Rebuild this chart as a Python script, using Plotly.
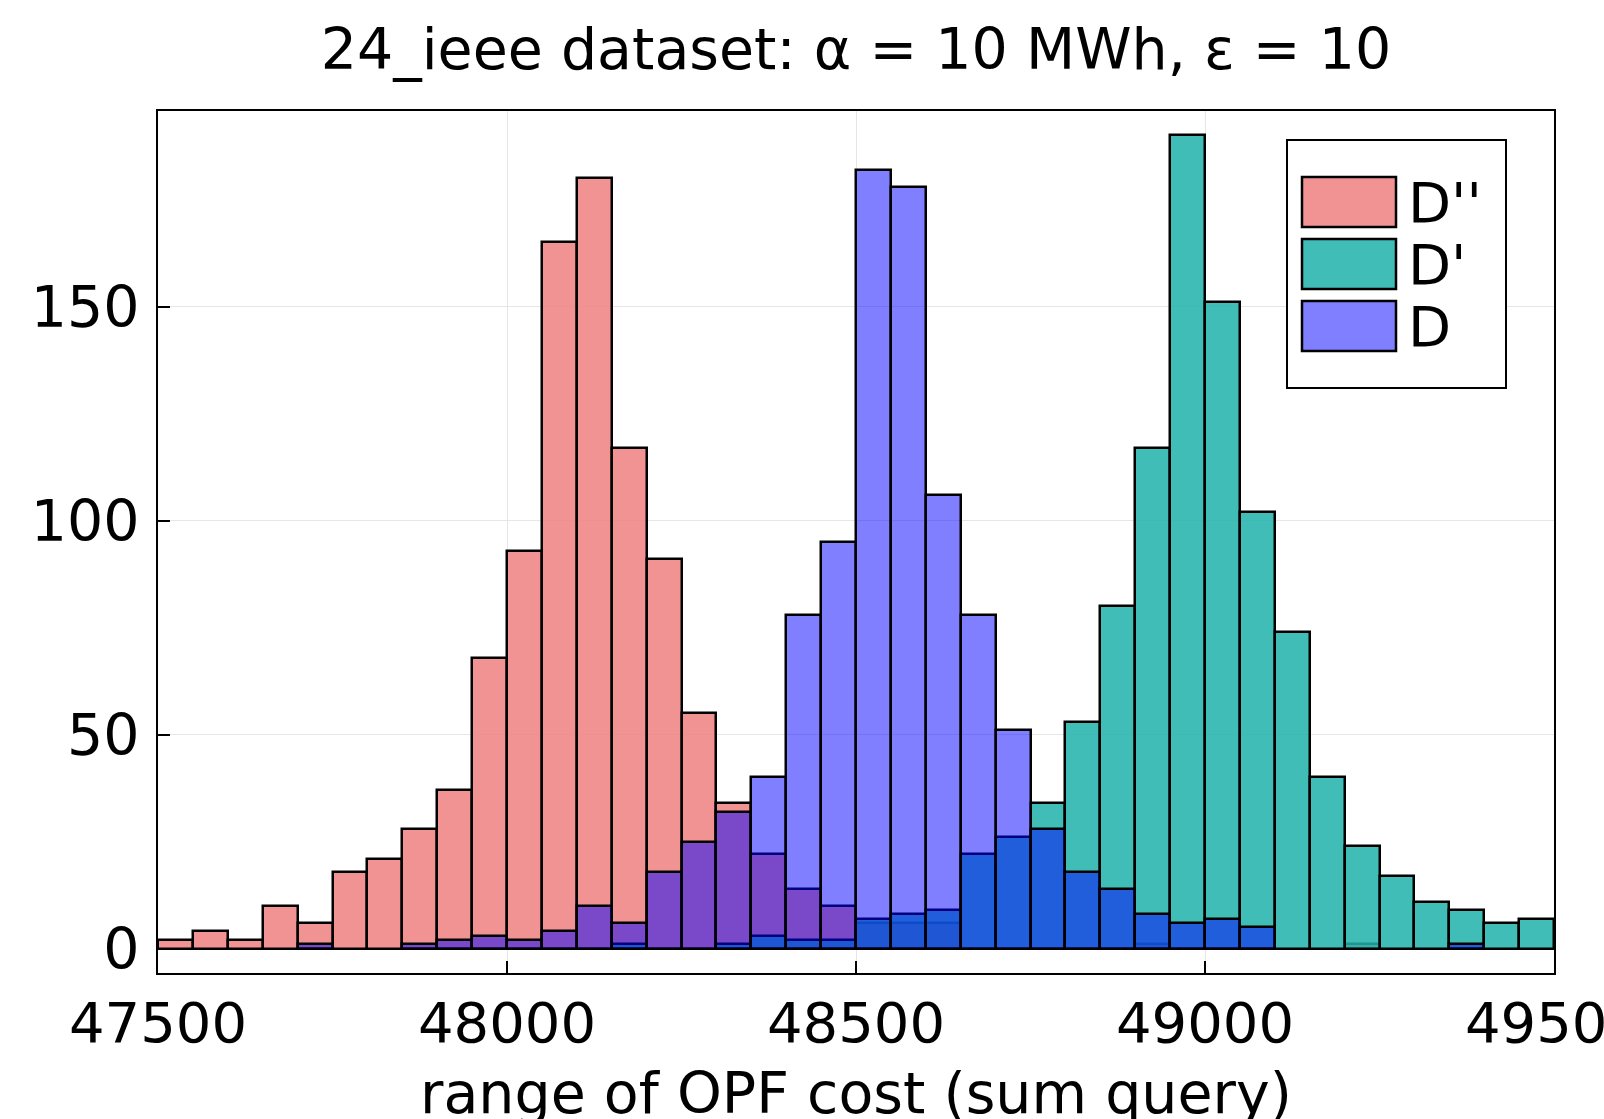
import plotly.graph_objects as go

# ---- data ----
bin_left = [47500, 47550, 47600, 47650, 47700, 47750, 47800, 47850, 47900, 47950,
            48000, 48050, 48100, 48150, 48200, 48250, 48300, 48350, 48400, 48450,
            48500, 48550, 48600, 48650, 48700, 48750, 48800, 48850, 48900, 48950,
            49000, 49050, 49100, 49150, 49200, 49250, 49300, 49350, 49400, 49450]
bin_width = 50

counts_Dpp = [2, 4, 2, 10, 6, 18, 21, 28, 37, 68,
              93, 165, 180, 117, 91, 55, 34, 22, 14, 10,
              6, 6, 6, 0, 0, 0, 0, 0, 1, 0,
              0, 0, 0, 0, 1, 0, 0, 0, 0, 0]
counts_Dp = [0, 0, 0, 0, 0, 0, 0, 0, 0, 0,
             0, 0, 0, 1, 0, 0, 1, 3, 2, 2,
             7, 8, 9, 22, 26, 34, 53, 80, 117, 190,
             151, 102, 74, 40, 24, 17, 11, 9, 6, 7]
counts_D = [0, 0, 0, 0, 1, 0, 0, 1, 2, 3,
            2, 4, 10, 6, 18, 25, 32, 40, 78, 95,
            182, 178, 106, 78, 51, 28, 18, 14, 8, 6,
            7, 5, 0, 0, 0, 0, 0, 1, 0, 0]

series_names = ["D''", "D'", "D"]
series_counts = [counts_Dpp, counts_Dp, counts_D]
series_colors = ["rgba(240,128,128,0.85)", "rgba(32,178,170,0.85)", "rgba(0,0,255,0.5)"]

x_ticks = [47500, 48000, 48500, 49000, 49500]
y_ticks = [0, 50, 100, 150]
title_text = "24_ieee dataset: α = 10 MWh, ε = 10"
x_label = "range of OPF cost (sum query)"

# ---- figure ----
fig = go.Figure()
for name, cnts, col in zip(series_names, series_counts, series_colors):
    xs = [b for b, c in zip(bin_left, cnts) if c > 0]
    ys = [c for c in cnts if c > 0]
    fig.add_trace(go.Bar(
        x=xs, y=ys, width=bin_width, offset=0, name=name,
        marker=dict(color=col, line=dict(color="black", width=2.5)),
    ))

W, H = 1604, 1119
L, R, T, B = 158, 50, 111, 146
pw, ph = W - L - R, H - T - B


def xp(px):
    return (px - L) / pw


def yp(py):
    return (H - B - py) / ph


font_family = "DejaVu Sans"
fig.update_layout(
    width=W, height=H, autosize=False,
    margin=dict(l=L, r=R, t=T, b=B, pad=0, autoexpand=False),
    plot_bgcolor="white", paper_bgcolor="white",
    font=dict(family=font_family, size=57, color="black"),
    barmode="overlay", bargap=0, showlegend=False,
    title=dict(text=title_text, x=0.5, xref="paper", xanchor="center",
               y=1 - 49 / H, yref="container", yanchor="middle", automargin=False,
               font=dict(size=57, family=font_family, color="black")),
)
fig.update_xaxes(
    range=[47500, 49500], tickvals=x_ticks, ticktext=[str(v) for v in x_ticks],
    showgrid=True, gridcolor="#e6e6e6", gridwidth=1.2,
    showline=True, mirror=True, linecolor="black", linewidth=2,
    ticks="inside", ticklen=12, tickwidth=2, tickcolor="black",
    zeroline=False, tickfont=dict(size=56), ticklabeloverflow="allow",
    automargin=False,
)
fig.update_yaxes(
    range=[-5.7, 195.7], tickvals=y_ticks, ticktext=[str(v) for v in y_ticks],
    showgrid=True, gridcolor="#e6e6e6", gridwidth=1.2,
    showline=True, mirror=True, linecolor="black", linewidth=2,
    ticks="inside", ticklen=12, tickwidth=2, tickcolor="black",
    zeroline=False, tickfont=dict(size=57), ticklabelstandoff=5,
    automargin=False,
)

# ---- legend (drawn manually to match large swatches) ----
shapes = [dict(type="rect", xref="paper", yref="paper",
               x0=xp(1287), x1=xp(1506), y0=yp(388), y1=yp(140),
               line=dict(color="black", width=2), fillcolor="white", layer="above")]
annotations = [dict(text=x_label, xref="paper", yref="paper", x=0.5, y=yp(1093),
                    xanchor="center", yanchor="middle", showarrow=False,
                    font=dict(size=57, family=font_family, color="black"))]
rows = [(177, 227), (239, 289), (301, 351)]
for (y0, y1), name, col in zip(rows, series_names, series_colors):
    shapes.append(dict(type="rect", xref="paper", yref="paper",
                       x0=xp(1302), x1=xp(1396), y0=yp(y1), y1=yp(y0),
                       line=dict(color="black", width=2.5), fillcolor=col, layer="above"))
    annotations.append(dict(text=name, xref="paper", yref="paper",
                            x=xp(1406), y=yp((y0 + y1) / 2), xanchor="left", yanchor="middle",
                            showarrow=False, font=dict(size=56, family=font_family, color="black")))
fig.update_layout(shapes=shapes, annotations=annotations)

fig.write_html("out.html")
